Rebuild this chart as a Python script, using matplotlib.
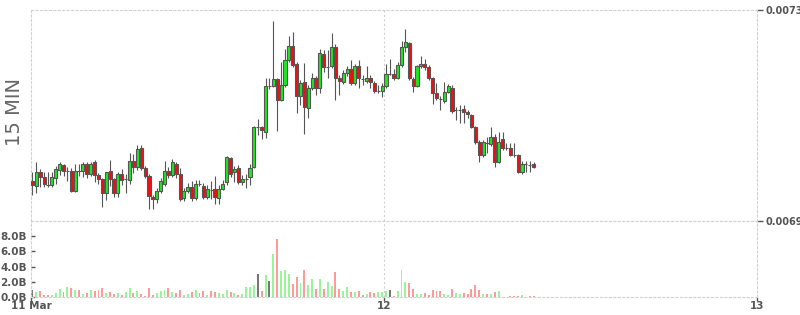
"""
15 min candles + volume, 11-12 Mar
"""

import matplotlib.pyplot as plt
import matplotlib.dates as mdates
import numpy as np
import pandas as pd

# OHLC (price), one candle per 15 min
opens = [
    0.006976, 0.006966, 0.006992, 0.006983, 0.006969, 0.006968, 0.006981, 0.006997, 0.007006, 0.006995,
    0.006995, 0.006956, 0.006994, 0.006995, 0.007008, 0.006990, 0.007011, 0.006987, 0.006979, 0.006953,
    0.006994, 0.006979, 0.006953, 0.006990, 0.006979, 0.006978, 0.007014, 0.007003, 0.007038, 0.007000,
    0.006986, 0.006946, 0.006941, 0.006957, 0.006971, 0.006995, 0.006987, 0.007009, 0.006990, 0.006943,
    0.006957, 0.006965, 0.006943, 0.006970, 0.006967, 0.006945, 0.006959, 0.006961, 0.006943, 0.006961,
    0.006973, 0.007019, 0.006992, 0.007000, 0.006973, 0.006980, 0.006983, 0.007002, 0.007078, 0.007078,
    0.007068, 0.007156, 0.007156, 0.007169, 0.007129, 0.007157, 0.007205, 0.007232, 0.007197, 0.007137,
    0.007163, 0.007114, 0.007152, 0.007171, 0.007153, 0.007217, 0.007192, 0.007193, 0.007230, 0.007172,
    0.007163, 0.007180, 0.007188, 0.007161, 0.007194, 0.007170, 0.007165, 0.007172, 0.007161, 0.007147,
    0.007146, 0.007156, 0.007178, 0.007178, 0.007172, 0.007196, 0.007229, 0.007237, 0.007169, 0.007156,
    0.007193, 0.007197, 0.007191, 0.007171, 0.007142, 0.007132, 0.007127, 0.007145, 0.007153, 0.007110,
    0.007111, 0.007112, 0.007106, 0.007101, 0.007078, 0.007049, 0.007025, 0.007048, 0.007046, 0.007060,
    0.007011, 0.007055, 0.007038, 0.007039, 0.007025, 0.007025, 0.006992, 0.007008, 0.007007, 0.007009,
]
highs = [
    0.006993, 0.007012, 0.006998, 0.006993, 0.006993, 0.006992, 0.007004, 0.007011, 0.007009, 0.007002,
    0.007000, 0.007008, 0.007008, 0.007011, 0.007012, 0.007012, 0.007016, 0.006991, 0.006982, 0.006993,
    0.007016, 0.006982, 0.006993, 0.006998, 0.006990, 0.007028, 0.007027, 0.007044, 0.007045, 0.007004,
    0.006989, 0.006949, 0.006963, 0.006982, 0.007014, 0.007002, 0.007018, 0.007012, 0.007000, 0.006963,
    0.006972, 0.006976, 0.006978, 0.006978, 0.006972, 0.006968, 0.006976, 0.006985, 0.006968, 0.006978,
    0.007023, 0.007021, 0.007004, 0.007006, 0.006987, 0.006989, 0.007008, 0.007080, 0.007093, 0.007080,
    0.007171, 0.007171, 0.007279, 0.007171, 0.007202, 0.007227, 0.007251, 0.007258, 0.007201, 0.007167,
    0.007200, 0.007158, 0.007181, 0.007175, 0.007227, 0.007224, 0.007224, 0.007256, 0.007236, 0.007177,
    0.007186, 0.007194, 0.007205, 0.007198, 0.007205, 0.007177, 0.007193, 0.007177, 0.007165, 0.007158,
    0.007162, 0.007197, 0.007208, 0.007189, 0.007201, 0.007241, 0.007264, 0.007239, 0.007173, 0.007196,
    0.007213, 0.007208, 0.007196, 0.007173, 0.007161, 0.007137, 0.007164, 0.007160, 0.007158, 0.007116,
    0.007120, 0.007120, 0.007110, 0.007103, 0.007080, 0.007054, 0.007054, 0.007060, 0.007078, 0.007065,
    0.007069, 0.007069, 0.007048, 0.007047, 0.007047, 0.007027, 0.007014, 0.007014, 0.007014, 0.007012,
]
lows = [
    0.006949, 0.006953, 0.006964, 0.006964, 0.006964, 0.006964, 0.006971, 0.006987, 0.006985, 0.006976,
    0.006955, 0.006955, 0.006985, 0.006984, 0.006982, 0.006985, 0.006974, 0.006970, 0.006926, 0.006940,
    0.006966, 0.006946, 0.006946, 0.006968, 0.006953, 0.006971, 0.006991, 0.006997, 0.006997, 0.006982,
    0.006922, 0.006922, 0.006934, 0.006953, 0.006966, 0.006982, 0.006983, 0.006982, 0.006937, 0.006938,
    0.006953, 0.006938, 0.006940, 0.006966, 0.006942, 0.006942, 0.006942, 0.006932, 0.006932, 0.006959,
    0.006968, 0.006983, 0.006974, 0.006970, 0.006968, 0.006963, 0.006968, 0.007000, 0.007063, 0.007055,
    0.007057, 0.007150, 0.007154, 0.007071, 0.007127, 0.007154, 0.007201, 0.007192, 0.007105, 0.007120,
    0.007064, 0.007095, 0.007148, 0.007139, 0.007142, 0.007182, 0.007171, 0.007190, 0.007129, 0.007139,
    0.007160, 0.007175, 0.007158, 0.007158, 0.007152, 0.007158, 0.007162, 0.007152, 0.007143, 0.007143,
    0.007136, 0.007152, 0.007177, 0.007167, 0.007169, 0.007192, 0.007220, 0.007167, 0.007145, 0.007154,
    0.007190, 0.007186, 0.007167, 0.007121, 0.007129, 0.007110, 0.007124, 0.007143, 0.007105, 0.007091,
    0.007086, 0.007086, 0.007095, 0.007076, 0.007046, 0.007011, 0.007021, 0.007028, 0.007042, 0.007003,
    0.007010, 0.007035, 0.007035, 0.007023, 0.007021, 0.006991, 0.006990, 0.006993, 0.006993, 0.007000,
]
closes = [
    0.006968, 0.006992, 0.006983, 0.006970, 0.006969, 0.006983, 0.006998, 0.007008, 0.006994, 0.006995,
    0.006956, 0.006995, 0.006994, 0.007008, 0.006990, 0.007009, 0.006987, 0.006979, 0.006953, 0.006992,
    0.006979, 0.006953, 0.006989, 0.006978, 0.006979, 0.007014, 0.007003, 0.007036, 0.007000, 0.006986,
    0.006948, 0.006941, 0.006957, 0.006976, 0.006995, 0.006987, 0.007011, 0.006990, 0.006942, 0.006957,
    0.006964, 0.006943, 0.006971, 0.006970, 0.006946, 0.006960, 0.006959, 0.006946, 0.006961, 0.006971,
    0.007021, 0.006990, 0.006998, 0.006973, 0.006979, 0.006980, 0.007001, 0.007078, 0.007078, 0.007073,
    0.007156, 0.007156, 0.007169, 0.007129, 0.007157, 0.007205, 0.007232, 0.007196, 0.007137, 0.007161,
    0.007116, 0.007152, 0.007171, 0.007153, 0.007218, 0.007191, 0.007192, 0.007230, 0.007172, 0.007165,
    0.007180, 0.007188, 0.007161, 0.007194, 0.007171, 0.007170, 0.007172, 0.007164, 0.007146, 0.007147,
    0.007156, 0.007178, 0.007178, 0.007171, 0.007196, 0.007229, 0.007239, 0.007171, 0.007155, 0.007193,
    0.007197, 0.007191, 0.007171, 0.007142, 0.007133, 0.007132, 0.007145, 0.007155, 0.007109, 0.007110,
    0.007111, 0.007106, 0.007102, 0.007078, 0.007049, 0.007026, 0.007049, 0.007048, 0.007060, 0.007012,
    0.007049, 0.007039, 0.007038, 0.007026, 0.007025, 0.006992, 0.007009, 0.007008, 0.007007, 0.007002,
]
# volume in billions
volumes = [
    0.97, 0.7, 0.84, 0.3, 0.3, 0.3, 0.5, 1.1, 0.7, 1.37,
    1.23, 0.97, 0.97, 0.44, 0.57, 0.97, 0.84, 0.97, 1.23, 0.57,
    0.7, 0.44, 0.57, 0.3, 0.7, 1.23, 0.57, 0.84, 0.44, 0.18,
    1.23, 0.3, 0.57, 0.84, 0.97, 1.23, 0.7, 0.57, 0.97, 0.3,
    0.44, 0.7, 0.97, 0.57, 0.84, 0.3, 0.84, 0.7, 0.57, 0.44,
    0.97, 0.7, 0.57, 0.3, 0.44, 1.37, 1.37, 1.63, 3.08, 0.84,
    2.95, 2.16, 5.6, 7.58, 3.48, 3.6, 3.08, 1.76, 2.69, 1.8,
    3.6, 1.6, 2.4, 1.0, 2.4, 1.0, 2.0, 1.4, 3.3, 1.1,
    0.8, 1.3, 0.7, 0.6, 0.8, 0.3, 0.4, 0.6, 0.5, 0.6,
    0.6, 0.75, 0.88, 0.18, 0.75, 3.5, 2.0, 1.9, 1.1, 0.44,
    0.44, 0.57, 0.3, 0.97, 0.84, 0.84, 0.35, 0.3, 1.1, 0.57,
    0.44, 0.57, 0.44, 1.1, 1.63, 0.97, 0.44, 0.44, 0.35, 0.7,
    0.84, 0.05, 0.05, 0.09, 0.18, 0.18, 0.3, 0.05, 0.18, 0.09,
]
price_ticks = [0.0069, 0.0073]
vol_ticks = [0, 2, 4, 6, 8]

o = np.array(opens)
h = np.array(highs)
l = np.array(lows)
c = np.array(closes)
v = np.array(volumes)

step = 1 / 96  # 15 min in days
times = pd.date_range("2024-03-11 01:15", periods=len(c), freq="15min")
x = mdates.date2num(times) + step / 2

up = c >= o
body_col = np.where(up, "#1ee81e", "#ee1111")

# cor do volume: fechamento contra o fechamento anterior
diff = np.diff(c, prepend=np.nan)
vol_col = np.where(diff > 0, "#98f598", np.where(diff < 0, "#ff9a9a", "#777777"))

fig = plt.figure(figsize=(8, 3.15), dpi=100)
ax = fig.add_axes([31 / 800, 94 / 315, 726 / 800, 211 / 315])
axv = fig.add_axes([31 / 800, 18 / 315, 726 / 800, 76 / 315], sharex=ax)

grid_kw = dict(color="#d2d2d2", linewidth=0.8, linestyle=(0, (2, 2)))
tick_col = "#555555"
fsize = 7.5

# candles
ax.vlines(x, l, h, color="#555555", linewidth=0.8, zorder=2)
ax.bar(x, np.abs(c - o), bottom=np.minimum(o, c), width=step * 0.8,
       color=body_col, edgecolor="#555555", linewidth=0.8, zorder=3)

# volume
axv.bar(x, v, width=step * 0.5, color=vol_col, zorder=2)

x_left = mdates.date2num(pd.Timestamp("2024-03-11 01:17"))
d12 = mdates.date2num(pd.Timestamp("2024-03-12"))
d13 = mdates.date2num(pd.Timestamp("2024-03-13"))
ax.set_xlim(x_left, d13)
ax.set_ylim(price_ticks[0], price_ticks[1])
axv.set_ylim(0, 10)

for a in (ax, axv):
    for s in a.spines.values():
        s.set(**grid_kw)
    a.axvline(d12, zorder=0, **grid_kw)

# price axis on the right
ax.yaxis.tick_right()
ax.set_yticks(price_ticks)
ax.set_yticklabels([f"{t:.4f}" for t in price_ticks], fontweight="bold")
ax.tick_params(axis="y", direction="out", length=4, width=1, colors=tick_col,
               labelsize=7, pad=2)
ax.tick_params(axis="x", bottom=False, labelbottom=False)

axv.set_yticks(vol_ticks)
axv.set_yticklabels([f"{t:.1f}B" for t in vol_ticks], fontweight="bold")
axv.tick_params(axis="y", direction="in", length=3, width=1, colors=tick_col,
                labelsize=fsize, pad=3)

axv.set_xticks([x_left, d12, d13])
axv.set_xticklabels(["11 Mar", "12", "13"], fontweight="bold")
axv.tick_params(axis="x", direction="out", length=3, width=1, colors=tick_col,
                labelsize=fsize, pad=0)

fig.text(15 / 800, 1 - 112 / 315, "15 MIN", rotation=90, fontsize=14,
         color="#666666", ha="center", va="center")

fig.savefig("out.png", dpi=100)
